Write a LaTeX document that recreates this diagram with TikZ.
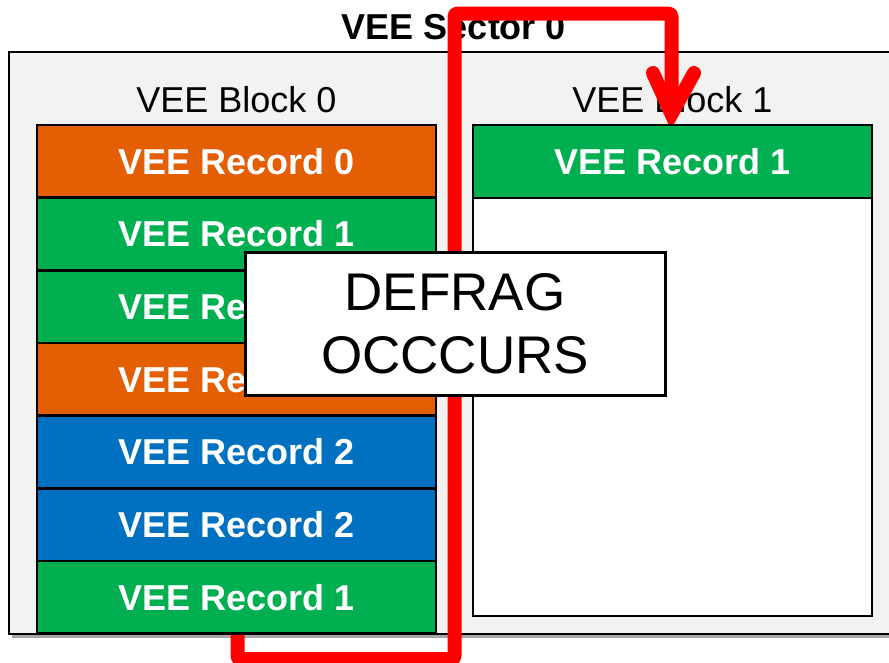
\documentclass[tikz,border=0pt]{standalone}
\usepackage{fontspec}
\setmainfont{Liberation Sans}
\definecolor{recorange}{RGB}{228,94,4}
\definecolor{recgreen}{RGB}{0,176,80}
\definecolor{recblue}{RGB}{0,112,192}
\definecolor{sectorgray}{RGB}{242,242,242}
\definecolor{arrowred}{RGB}{255,0,0}
\begin{document}
\begin{tikzpicture}[x=1pt,y=-1pt,
  record/.style={draw=black,line width=2.5pt,minimum width=399pt,minimum height=72.6pt,inner sep=0pt,
    text=white,font=\fontsize{36}{40}\bfseries\selectfont,text height=25.8pt,text depth=0pt},
  lbl/.style={anchor=base,inner sep=0pt,font=\fontsize{36}{40}\selectfont},
  big/.style={anchor=base,inner sep=0pt,font=\fontsize{53}{60}\selectfont},
  redline/.style={draw=arrowred,line width=14pt,line join=round,line cap=round}]
\useasboundingbox (0,0) rectangle (889,662);
% sector box
\fill[black!35] (12,55) rectangle (895,638);
\draw[fill=sectorgray,line width=2.5pt] (9,52) rectangle (895,634);
\node[lbl,font=\fontsize{36}{40}\bfseries\selectfont] (title) at (454,39) {VEE Sector 0};
\node[lbl] (blk0) at (236.5,112) {VEE Block 0};
\node[lbl] (blk1) at (672.5,112) {VEE Block 1};
% red path
\coordinate (r0) at (237.5,600);
\coordinate (r1) at (237.5,659);
\coordinate (r2) at (454.5,659);
\coordinate (r3) at (454.5,13.5);
\coordinate (r4) at (671.5,13.5);
\coordinate (r5) at (671.5,114);
\coordinate (al) at (653,73);
\coordinate (ar) at (694,73);
\draw[redline,rounded corners=3pt,line cap=butt] (r0) -- (r1) -- (r2) -- (r3) -- (r4) -- (r5);
\draw[redline,line join=miter] (al) -- (r5) -- (ar);
% left column
\node[record,fill=recorange] (a0) at (236.5,161.5) {VEE Record 0};
\node[record,fill=recgreen] (a1) at (236.5,234) {VEE Record 1};
\node[record,fill=recgreen] (a2) at (236.5,306.7) {VEE Record 1};
\node[record,fill=recorange] (a3) at (236.5,379.3) {VEE Record 0};
\node[record,fill=recblue] (a4) at (236.5,452) {VEE Record 2};
\node[record,fill=recblue] (a5) at (236.5,524.6) {VEE Record 2};
\node[record,fill=recgreen] (a6) at (236.5,597.2) {VEE Record 1};
% right column
\draw[fill=white,line width=2.5pt] (473,198) rectangle (872,616);
\node[record,fill=recgreen] (b0) at (672.5,161.5) {VEE Record 1};
% defrag box
\draw[fill=white,line width=3pt] (245,252) rectangle (665,395);
\node[big] (d1) at (455,310) {DEFRAG};
\node[big] (d2) at (455,373) {OCCCURS};
\end{tikzpicture}
\end{document}
